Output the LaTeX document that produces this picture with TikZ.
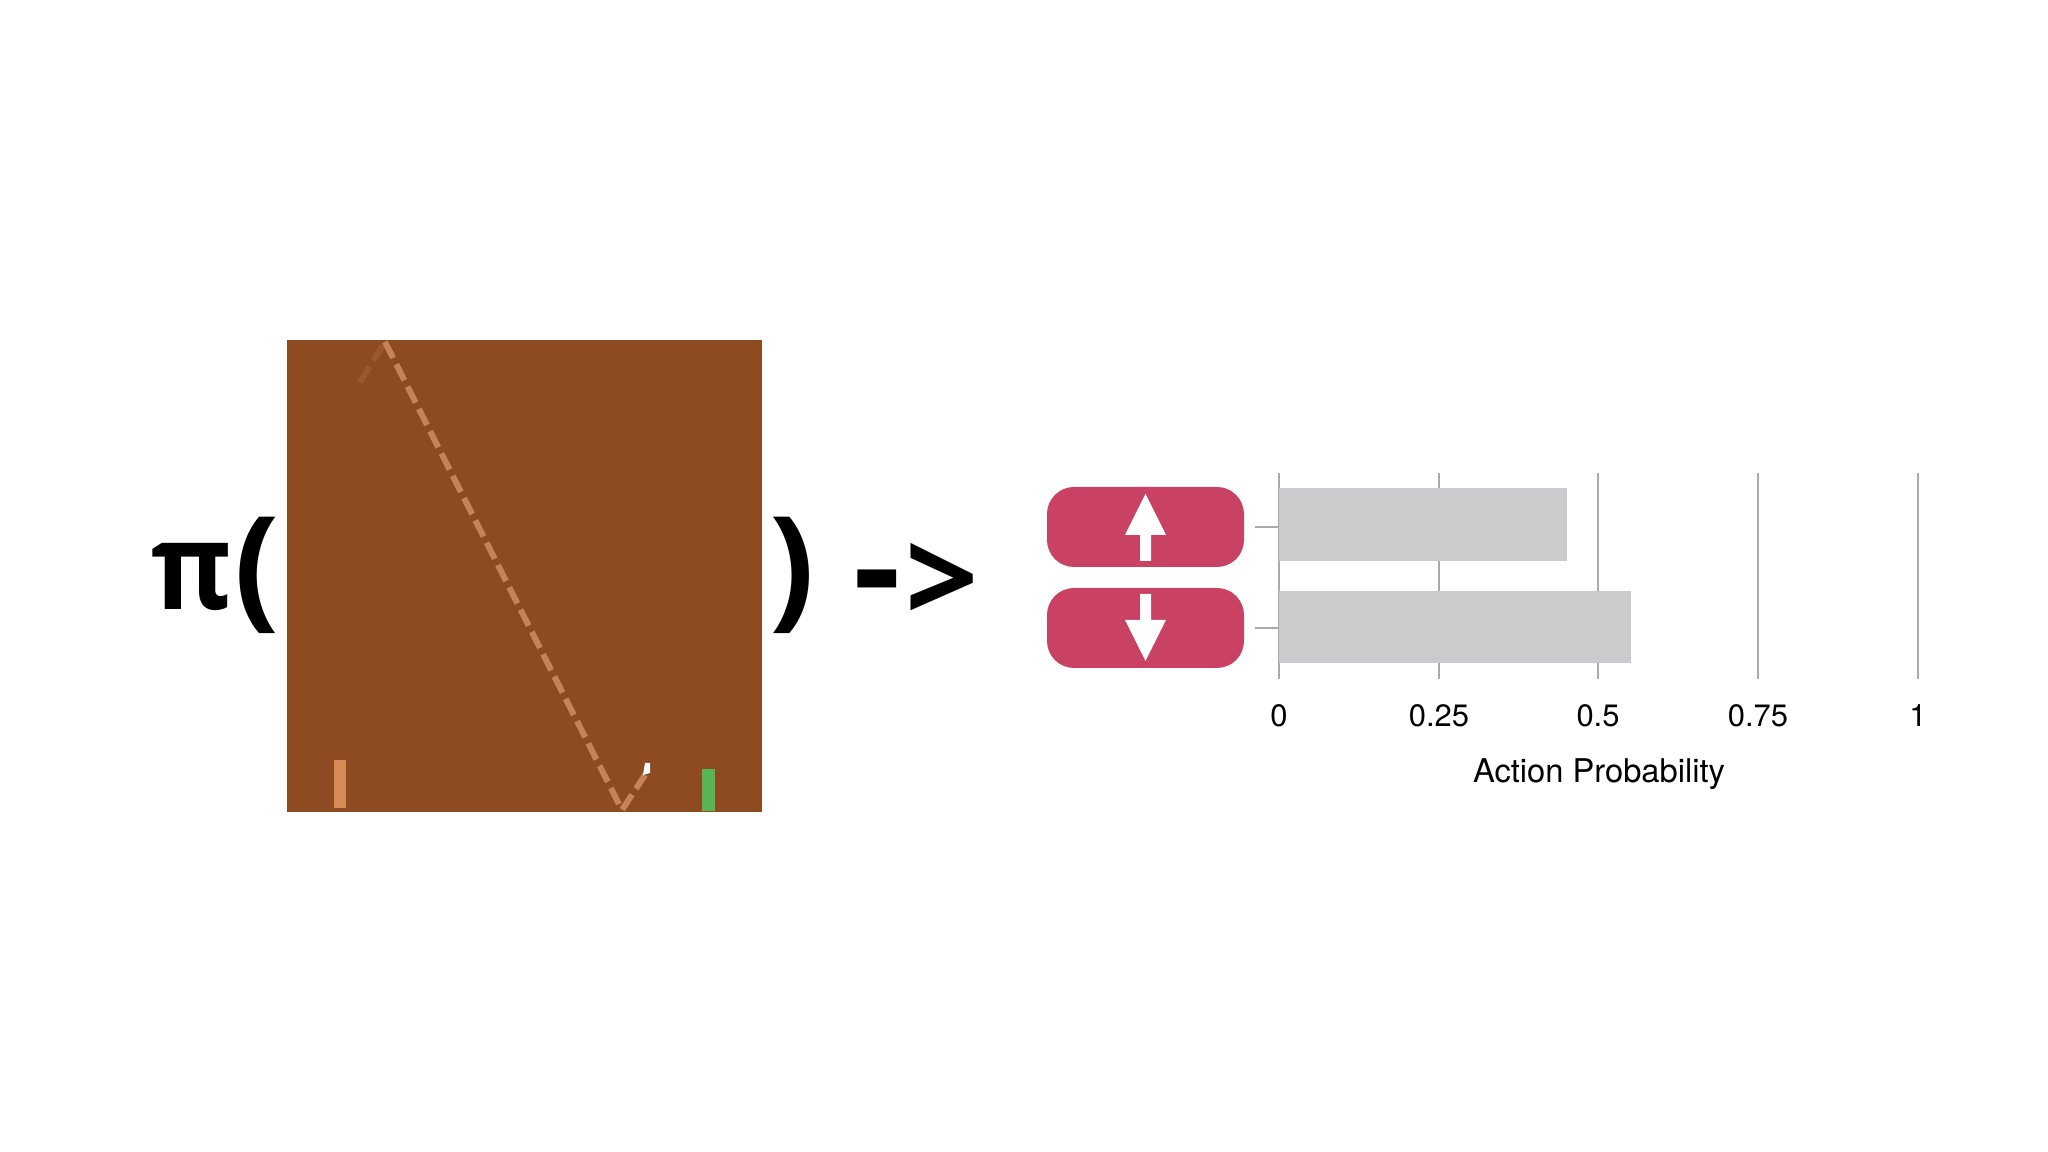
\documentclass[tikz,border=0pt]{standalone}
\usepackage{fontspec}
\setmainfont{TeX Gyre Heros}
\newfontfamily\bigfont{Open Sans}[BoldFont={* Bold}]

\begin{document}
\begin{tikzpicture}
            \definecolor{courtcolor}{RGB}{142, 74, 32}
            \definecolor{trailcolor}{RGB}{196, 132, 88}
            \definecolor{leftcolor}{RGB}{217, 139, 85}
            \definecolor{rightcolor}{RGB}{85, 182, 83}
            \definecolor{btncolor}{RGB}{201, 66, 99}
            \definecolor{barcolor}{RGB}{203, 202, 204}
            \definecolor{gridcolor}{RGB}{170, 170, 170}
            \tikzset{
                bigtext/.style={font=\bigfont\bfseries\fontsize{38}{40}\selectfont, anchor=base, inner sep=0pt},
                ticktext/.style={font=\fontsize{8.8}{10}\selectfont, anchor=base, inner sep=0pt},
                actionbtn/.style={fill=btncolor, rounded corners=0.27cm, minimum width=1.97cm, minimum height=0.80cm, inner sep=0pt},
                trail/.style={color=trailcolor, line width=1.7pt, dash pattern=on 0.18cm off 0.07cm}
            }
            \useasboundingbox (0,0) rectangle (20.48,11.52);

            % game screen
            \fill[color=courtcolor] (2.87,3.40) rectangle (7.62,8.12);
            \draw[trail, opacity=0.25] (3.60,7.70) -- (3.85,8.10);
            \draw[trail] (3.85,8.10) -- (6.22,3.42) -- (6.45,3.77);
            \fill[color=leftcolor] (3.34,3.44) rectangle (3.46,3.92);
            \fill[color=rightcolor] (7.02,3.41) rectangle (7.15,3.83);
            \fill[color=white] (6.43,3.77) -- (6.50,3.79) -- (6.50,3.89) -- (6.45,3.89) -- cycle;

            \node[bigtext, font=\bigfont\bfseries\fontsize{34.5}{36}\selectfont, xscale=0.9, transform shape] (pi) at (1.92,5.42) {π};
            \node[bigtext] (open) at (2.575,5.39) {(};
            \node[bigtext] (close) at (7.925,5.39) {)};
            \node[bigtext, font=\bigfont\bfseries\fontsize{42}{44}\selectfont] (minus) at (8.77,5.33) {-};
            \node[bigtext, font=\bigfont\bfseries\fontsize{36.5}{38}\selectfont] (more) at (9.42,5.28) {>};

            % chart
            \foreach \x in {12.79,14.39,15.98,17.58,19.18}
                \draw[color=gridcolor, line width=0.5pt] (\x,4.73) -- (\x,6.79);
            \fill[color=barcolor] (12.79,5.91) rectangle (15.67,6.64);
            \fill[color=barcolor] (12.79,4.89) rectangle (16.31,5.61);
            \draw[color=gridcolor, line width=0.5pt] (12.55,6.25) -- (12.79,6.25);
            \draw[color=gridcolor, line width=0.5pt] (12.55,5.24) -- (12.79,5.24);

            \node[actionbtn] (up) at (11.455,6.25) {};
            \node[actionbtn] (down) at (11.455,5.24) {};
            \fill[color=white] (11.455,6.58) -- (11.66,6.17) -- (11.51,6.17) -- (11.51,5.91) -- (11.40,5.91) -- (11.40,6.17) -- (11.25,6.17) -- cycle;
            \fill[color=white] (11.455,4.91) -- (11.66,5.32) -- (11.51,5.32) -- (11.51,5.58) -- (11.40,5.58) -- (11.40,5.32) -- (11.25,5.32) -- cycle;

            \foreach \x/\lab [count=\i] in {12.79/0,14.39/0.25,15.98/0.5,17.58/0.75,19.18/1}
                \node[ticktext] (tick\i) at (\x,4.25) {\lab};
            \node[ticktext, font=\fontsize{9.3}{10}\selectfont] (axis) at (15.99,3.69) {Action Probability};
        \end{tikzpicture}
\end{document}
